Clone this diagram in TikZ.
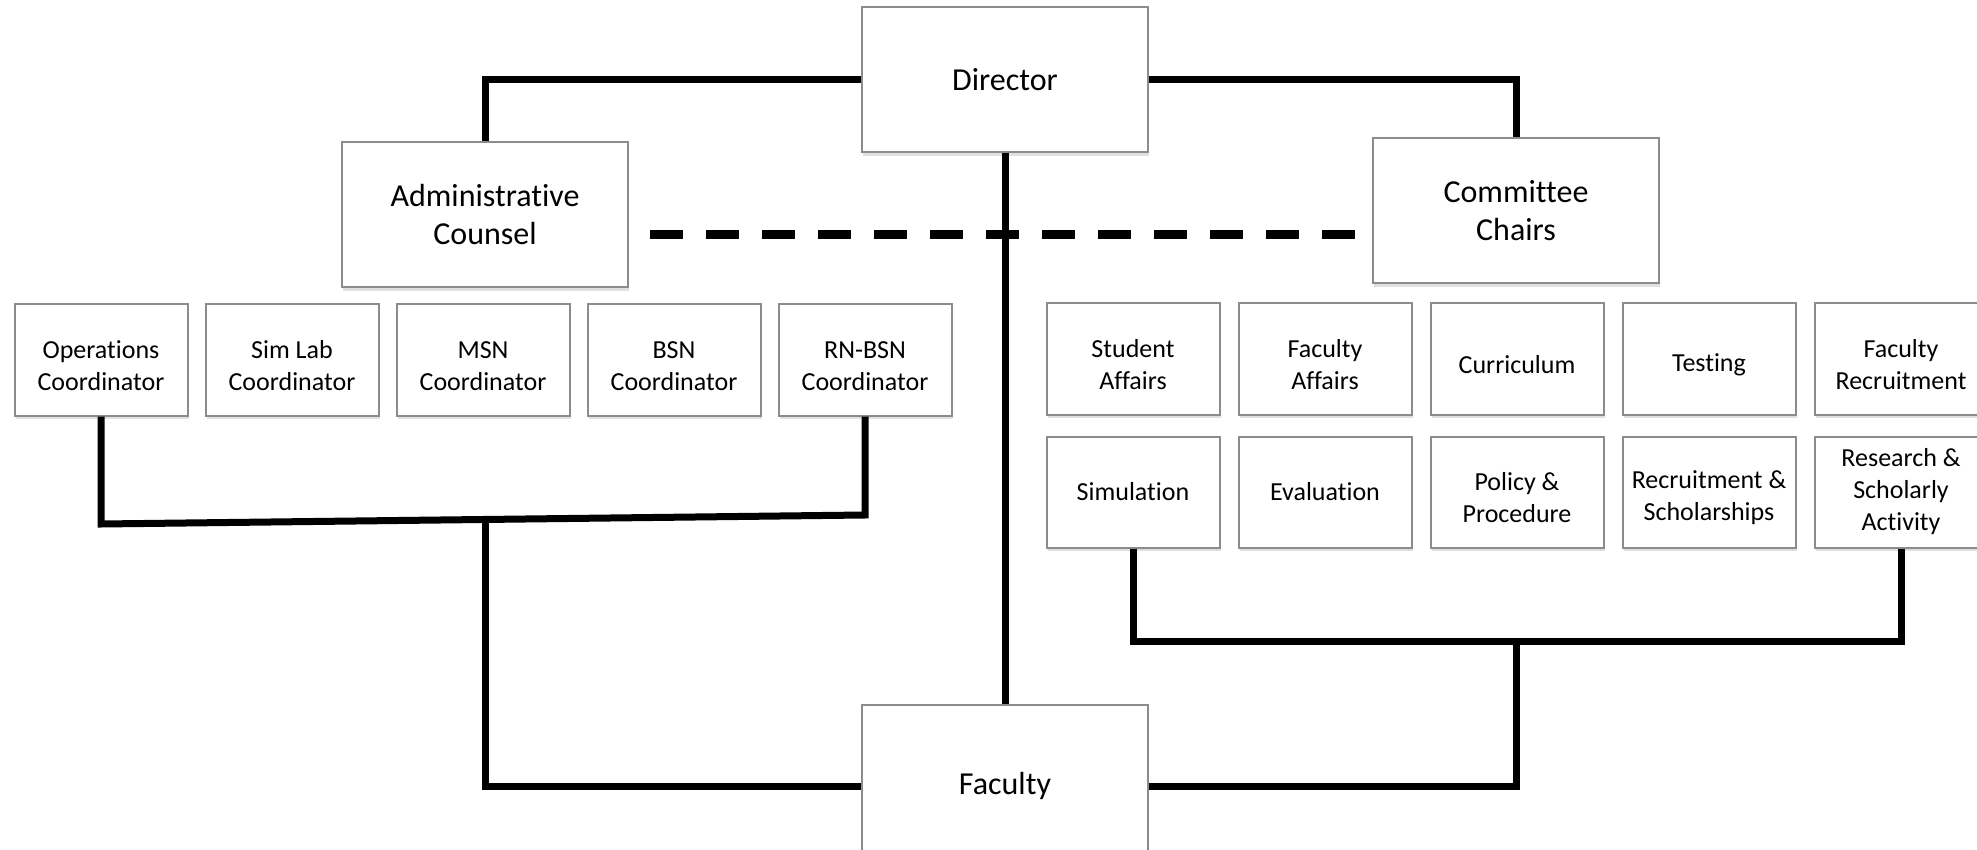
\documentclass[tikz,border=0pt]{standalone}
\usepackage{fontspec}
\setmainfont{Carlito}[Ligatures=NoCommon]
\usetikzlibrary{positioning, shadows}
\newcommand{\lift}{\rule{0pt}{14.5pt}}

\begin{document}
\begin{tikzpicture}[x=0.5pt, y=-0.5pt, node distance=8.5pt and 8.5pt]

    % Define the styles
    \tikzstyle{head} = [rectangle, draw=black!45, line width=1pt, fill=white, align=center, minimum width=143pt, minimum height=72.5pt, inner sep=1pt, font=\fontsize{16}{19}\selectfont, drop shadow={shadow xshift=0.6pt, shadow yshift=-1.8pt, fill=black!40, opacity=0.3}]
    \tikzstyle{member} = [head, minimum width=86.5pt, minimum height=55.5pt, font=\fontsize{13}{16}\selectfont]
    \tikzstyle{link} = [line width=3.5pt]
    \tikzstyle{dashlink} = [line width=4.5pt, dash pattern=on 16.5pt off 11.5pt]

    \useasboundingbox (0,0) rectangle (1977,850);

    % Main offices
    \node (dir) [head] at (1005,80) {Director};
    \node (adm) [head] at (485,215) {Administrative\\Counsel};
    \node (com) [head] at (1516,211) {Committee\\Chairs};
    \node (fac) [head, minimum height=81pt] at (1005,786) {Faculty};

    % Coordinators
    \node (ops) [member] at (101,360) {\lift Operations\\Coordinator};
    \node (siml) [member, right=8pt of ops] {\lift Sim Lab\\Coordinator};
    \node (msn) [member, right=8pt of siml] {\lift MSN\\Coordinator};
    \node (bsn) [member, right=8pt of msn] {\lift BSN\\Coordinator};
    \node (rnb) [member, right=8pt of bsn] {\lift RN-BSN\\Coordinator};

    % Committees
    \node (stu) [member] at (1133,359) {\lift Student\\Affairs};
    \node (faff) [member, right=of stu] {\lift Faculty\\Affairs};
    \node (cur) [member, right=of faff] {\lift Curriculum};
    \node (tst) [member, right=of cur] {\lift Testing};
    \node (frec) [member, right=of tst] {\lift Faculty\\Recruitment};

    \node (simu) [member, below=10pt of stu] {Simulation};
    \node (eva) [member, right=of simu] {Evaluation};
    \node (pol) [member, right=of eva] {\lift Policy \&\\Procedure};
    \node (rsch) [member, right=of pol] {\lift Recruitment \&\\Scholarships};
    \node (res) [member, right=of rsch] {Research \&\\Scholarly\\Activity};

    % Connectors
    \coordinate (dl) at (650,235);
    \coordinate (dr) at (1356,235);
    \coordinate (lbl) at (0,524);
    \coordinate (lbr) at (0,515);
    \coordinate (lbar) at (485,520);
    \coordinate (rbar) at (1516,641);

    \draw [link] (dir.west) -| (adm.north);
    \draw [link] (dir.east) -| (com.north);
    \draw [link] (dir.south) -- (fac.north);
    \draw [dashlink] (dl) -- (dr);

    \draw [link] (ops.south) -- (ops.south |- lbl) -- (rnb.south |- lbr) -- (rnb.south);
    \draw [link] (lbar) |- (fac.west);

    \draw [link] (simu.south) |- (rbar) -| (res.south);
    \draw [link] (rbar) |- (fac.east);

\end{tikzpicture}
\end{document}
